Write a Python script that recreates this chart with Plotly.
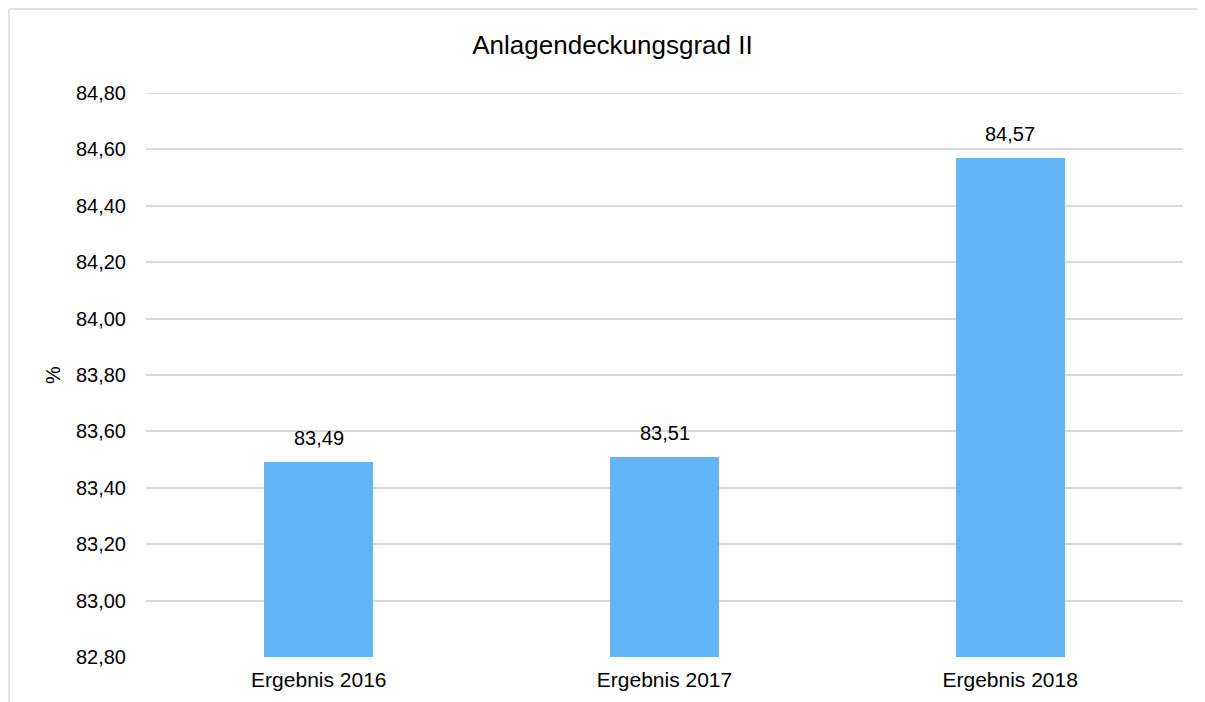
import plotly.graph_objects as go

# Werte aus dem Diagramm
kategorien = ["Ergebnis 2016", "Ergebnis 2017", "Ergebnis 2018"]
werte = [83.49, 83.51, 84.57]
labels = ["83,49", "83,51", "84,57"]
y_ticks = [82.8, 83.0, 83.2, 83.4, 83.6, 83.8, 84.0, 84.2, 84.4, 84.6, 84.8]

fig = go.Figure()

fig.add_trace(go.Bar(
    x=kategorien,
    y=werte,
    marker=dict(color="#63B5F5", line=dict(width=0)),
    width=0.315,
    hoverinfo="x+y",
))

# Datenbeschriftungen über den Balken
for k, w, t in zip(kategorien, werte, labels):
    fig.add_annotation(x=k, y=w, text=t, showarrow=False,
                       yanchor="bottom", yshift=11,
                       font=dict(size=20, color="#000000"))

# oberste Gitterlinie (plotly lässt sie am Rand weg)
fig.add_shape(type="line", xref="paper", yref="y",
              x0=0, x1=1, y0=y_ticks[-1], y1=y_ticks[-1],
              line=dict(color="#d9d9d9", width=1.5), layer="below")

# Rahmen oben und links (wie im Original)
fig.add_shape(type="line", xref="paper", yref="paper",
              x0=-0.1321, x1=1.03, y0=1.1489, y1=1.1489,
              line=dict(color="#d9d9d9", width=1.5))
fig.add_shape(type="line", xref="paper", yref="paper",
              x0=-0.1321, x1=-0.1321, y0=1.1489, y1=-0.1,
              line=dict(color="#d9d9d9", width=1.5))

fig.update_layout(
    title=dict(text="Anlagendeckungsgrad II", x=0.505, xanchor="center",
               y=0.947, yanchor="middle",
               font=dict(size=26, color="#000000")),
    font=dict(family="Liberation Sans, Arial, sans-serif", size=20, color="#000000"),
    separators=",.",
    width=1197,
    height=694,
    margin=dict(l=138, r=22, t=85, b=45),
    plot_bgcolor="white",
    paper_bgcolor="white",
    showlegend=False,
    bargap=0,
)

fig.update_yaxes(
    range=[82.8, 84.8],
    tickvals=y_ticks,
    tickformat=".2f",
    showgrid=True,
    gridcolor="#d9d9d9",
    gridwidth=1.5,
    zeroline=False,
    ticks="",
    ticklabelstandoff=19,
    title=dict(text="%", standoff=9, font=dict(size=20)),
)
fig.update_xaxes(
    showgrid=False,
    showline=False,
    ticks="",
    ticklabelstandoff=8,
    tickfont=dict(size=21),
)

fig.write_html("out.html")
